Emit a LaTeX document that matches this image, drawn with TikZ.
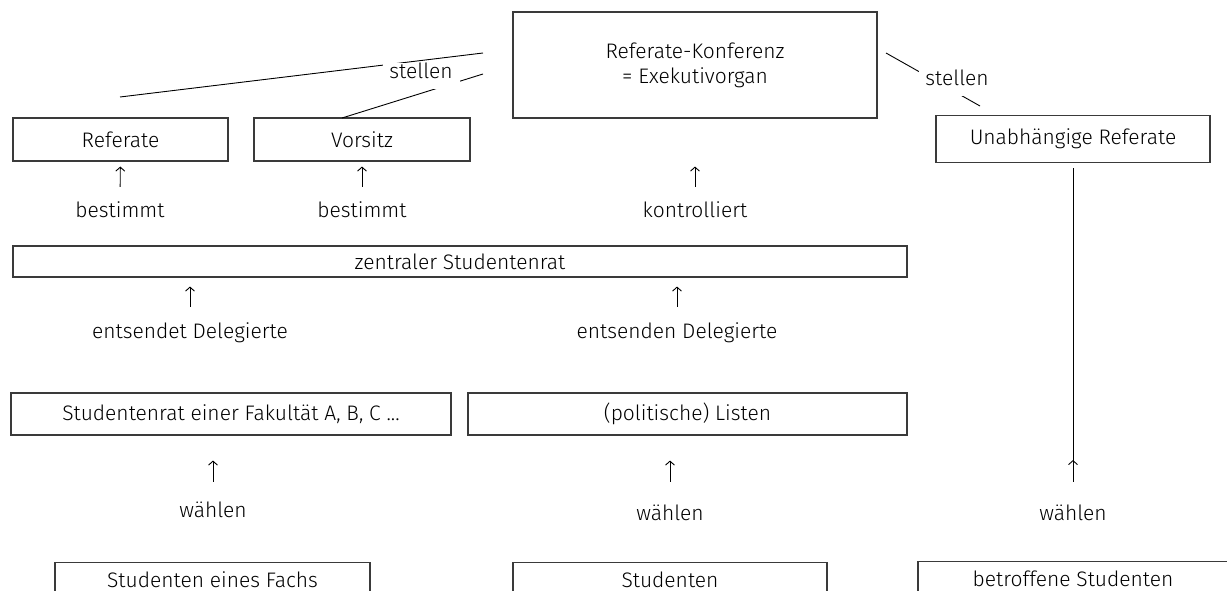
\documentclass[tikz,border=0pt]{standalone}
\usepackage{fontspec}
\setmainfont{Fira Sans}[UprightFont=* Light]
\usetikzlibrary{positioning,arrows.meta}
\definecolor{boxline}{HTML}{3a3a3a}

\begin{document}
\begin{tikzpicture}[x=1pt,y=-1pt,font=\fontsize{21}{25}\selectfont]
	\tikzstyle{gremium}=[draw=boxline,line width=1.1pt,rectangle,inner sep=0pt,minimum height=43pt]
	\tikzstyle{wirkung}=[inner sep=0pt,text height=14pt,text depth=4pt]
	\tikzstyle{pfeil}=[-{Straight Barb[length=4pt,width=9pt]},line width=0.9pt]
	\tikzstyle{stellt}=[fill=white,inner xsep=0pt,inner ysep=0pt,text height=16pt,text depth=10pt,minimum width=77pt]

	\useasboundingbox (0,0) rectangle (1227,591);

	% oberste Ebene
	\node[gremium,minimum width=364pt,minimum height=106pt,align=center](konferenz) at (695,65){Referate-Konferenz\\= Exekutivorgan};
	\node[gremium,minimum width=215pt](referate) at (120.5,139.5){Referate};
	\node[gremium,minimum width=216pt](vorsitz) at (362,139.5){Vorsitz};
	\node[gremium,minimum width=274pt,minimum height=47pt](unabhaengige) at (1073,139){Unabhängige Referate};

	\coordinate (referate_fuss) at (120,97);
	\coordinate (vorsitz_fuss) at (342,118);
	\coordinate (konferenz_a) at (483,53);
	\coordinate (konferenz_b) at (483,74);
	\coordinate (konferenz_c) at (886,53);
	\coordinate (unabhaengige_kopf) at (980,106);

	\draw[line width=0.9pt](referate_fuss) -- (konferenz_a);
	\draw[line width=0.9pt](vorsitz_fuss) -- (konferenz_b);
	\draw[line width=0.9pt](konferenz_c) -- (unabhaengige_kopf);
	\node[stellt](stellen_links) at (421,76){stellen};
	\node[stellt](stellen_rechts) at (957,83){stellen};

	% zentraler Studentenrat
	\node[wirkung](bestimmt_referate) at (120,213){bestimmt};
	\node[wirkung](bestimmt_vorsitz) at (362,213){bestimmt};
	\node[wirkung](kontrolliert) at (695,213){kontrolliert};
	\node[gremium,minimum width=894pt,minimum height=31pt](zentralrat) at (460,261.5){zentraler Studentenrat};

	\draw[pfeil,shorten <=17pt,shorten >=5pt](bestimmt_referate) -- (referate);
	\draw[pfeil,shorten <=17pt,shorten >=5pt](bestimmt_vorsitz) -- (vorsitz);
	\draw[pfeil,shorten <=17pt,shorten >=48pt](kontrolliert) -- (konferenz);

	% Fakultaeten und Listen
	\node[wirkung](entsendet) at (190,333){entsendet Delegierte};
	\node[wirkung](entsenden) at (677,333){entsenden Delegierte};
	\node[gremium,minimum width=440pt,minimum height=42pt](fakultaet) at (231,414){Studentenrat einer Fakultät A, B, C ...};
	\node[gremium,minimum width=439pt,minimum height=42pt](listen) at (687.5,414){(politische) Listen};

	\draw[pfeil,shorten <=17pt,shorten >=9pt](entsendet) -- (entsendet |- zentralrat.south);
	\draw[pfeil,shorten <=17pt,shorten >=9pt](entsenden) -- (entsenden |- zentralrat.south);

	% Studenten
	\node[wirkung](waehlen_fach) at (213,512){wählen};
	\node[wirkung](waehlen_listen) at (670,515){wählen};
	\node[wirkung](waehlen_betroffen) at (1073,515){wählen};
	\node[gremium,minimum width=315pt,text height=14pt,text depth=8pt,anchor=north](fach) at (212.5,562){Studenten eines Fachs};
	\node[gremium,minimum width=314pt,text height=14pt,text depth=8pt,anchor=north](studenten) at (670,562){Studenten};
	\node[gremium,minimum width=310pt,text height=14pt,text depth=8pt,anchor=north](betroffene) at (1073,561){betroffene Studenten};

	\draw[pfeil,shorten <=21pt,shorten >=25pt](waehlen_fach) -- (waehlen_fach |- fakultaet.south);
	\draw[pfeil,shorten <=24pt,shorten >=25pt](waehlen_listen) -- (waehlen_listen |- listen.south);
	\draw[line width=0.9pt,shorten <=24pt,shorten >=5pt](waehlen_betroffen) -- (unabhaengige);
	\draw[pfeil,shorten <=24pt,shorten >=297pt](waehlen_betroffen) -- (unabhaengige);
\end{tikzpicture}
\end{document}
